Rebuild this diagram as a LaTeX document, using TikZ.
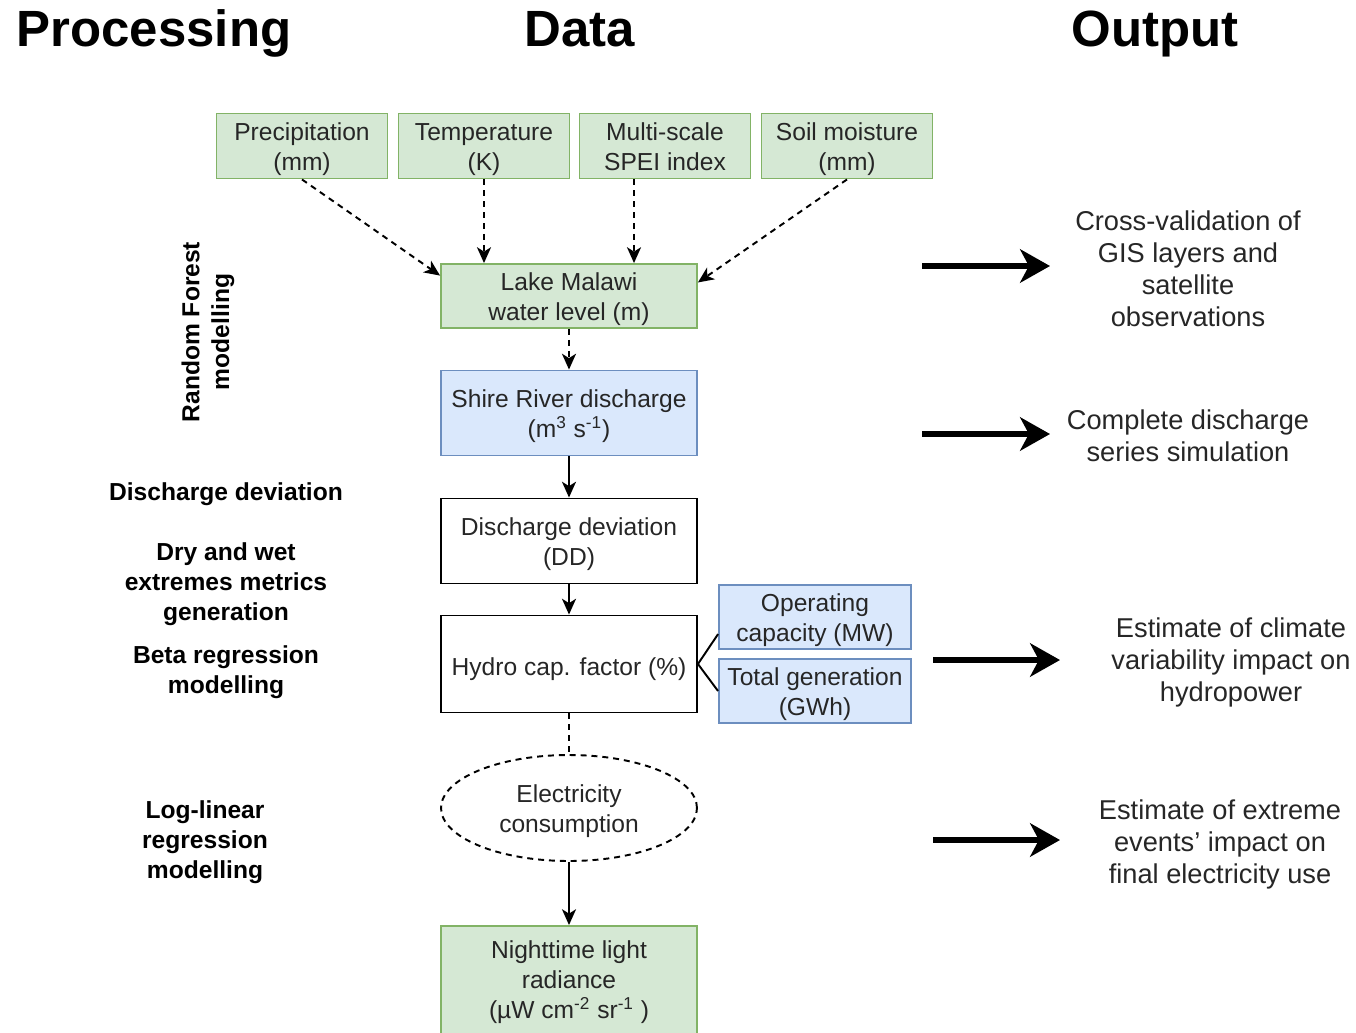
\documentclass[tikz,border=0pt]{standalone}
\usepackage{fontspec}
\setmainfont{Liberation Sans}
\usetikzlibrary{arrows.meta,shapes.geometric}
\definecolor{grfill}{HTML}{D5E8D4}
\definecolor{grline}{HTML}{82B366}
\definecolor{blfill}{HTML}{DAE8FC}
\definecolor{blline}{HTML}{6C8EBF}

\begin{document}
\begin{tikzpicture}[x=0.02cm, y=-0.02cm,
    every node/.style={align=center, text=black!85, font=\fontsize{14}{17}\selectfont},
    boxtext/.style={inner xsep=2pt, inner ysep=0pt, execute at begin node={\rule{0pt}{#1}}, execute at end node={\rule[-3.6pt]{0pt}{0pt}}},
    greenbox/.style={boxtext=#1, draw=grline, fill=grfill, line width=1.1pt},
    greenbox/.default=31.7pt,
    bluebox/.style={boxtext=#1, draw=blline, fill=blfill, line width=1.1pt},
    bluebox/.default=31.7pt,
    plainbox/.style={boxtext=#1, draw=black, line width=1.1pt},
    plainbox/.default=31.7pt,
    title/.style={anchor=base, text=black, font=\fontsize{29}{34}\selectfont\bfseries},
    method/.style={text=black, font=\fontsize{14}{17}\selectfont\bfseries},
    result/.style={text=black!85, font=\fontsize{15.5}{18.2}\selectfont},
    dsh/.style={draw, line width=1.1pt, dash pattern=on 3.4pt off 2.8pt, -{Stealth[length=9pt, width=8pt, inset=2.5pt]}},
    arr/.style={draw, line width=1.1pt, -{Stealth[length=9pt, width=8pt, inset=2.5pt]}},
    big/.style={draw, line width=3.4pt, -{Stealth[length=17pt, width=19pt, inset=5pt]}}]
    \useasboundingbox (0,0) rectangle (1356,1032);

    \node[title] (TP) at (154,46) {Processing};
    \node[title] (TD) at (580,46) {Data};
    \node[title] (TO) at (1155,46) {Output};

    \node[greenbox, minimum width=3.42cm, minimum height=1.3cm] (Prec) at (302,146) {Precipitation\\(mm)};
    \node[greenbox, minimum width=3.42cm, minimum height=1.3cm] (Temp) at (484,146) {Temperature\\(K)};
    \node[greenbox, minimum width=3.42cm, minimum height=1.3cm] (Spei) at (665,146) {Multi-scale\\SPEI index};
    \node[greenbox, minimum width=3.42cm, minimum height=1.3cm] (Soil) at (847,146) {Soil moisture\\(mm)};

    \node[greenbox, minimum width=5.12cm, minimum height=1.28cm] (Lake) at (569,296) {Lake Malawi\\water level (m)};
    \node[bluebox, minimum width=5.12cm, minimum height=1.7cm] (Shire) at (569,413) {Shire River discharge\\(m\textsuperscript{3} s\textsuperscript{-1})};
    \node[plainbox, minimum width=5.12cm, minimum height=1.7cm] (DD) at (569,541) {Discharge deviation\\(DD)};
    \node[plainbox=16.8pt, minimum width=5.12cm, minimum height=1.94cm] (Hcf) at (569,664) {Hydro cap. factor (\%)};
    \node[bluebox, minimum width=3.84cm, minimum height=1.28cm] (Opc) at (815,617) {Operating\\capacity (MW)};
    \node[bluebox, minimum width=3.84cm, minimum height=1.28cm] (Tgen) at (815,691) {Total generation\\(GWh)};
    \node[boxtext=31.7pt, ellipse, draw, line width=1.1pt, dash pattern=on 3.4pt off 2.8pt, minimum width=5.12cm, minimum height=2.12cm] (Elec) at (569,808) {Electricity\\consumption};
    \node[greenbox, minimum width=5.12cm, minimum height=2.28cm] (Ntl) at (569,983) {Nighttime light\\radiance\\(µW cm\textsuperscript{-2} sr\textsuperscript{-1} )};

    \draw[dsh] (Prec.south) -- (Lake.171);
    \draw[dsh] (Temp.south) -- (Temp.south |- Lake.north);
    \draw[dsh] ([xshift=-0.62cm]Spei.south) -- ([xshift=-0.62cm]Spei.south |- Lake.north);
    \draw[dsh] (Soil.south) -- (Lake.6);
    \draw[dsh] (Lake.south) -- (Shire.north);
    \draw[arr] (Shire.south) -- (DD.north);
    \draw[arr] (DD.south) -- (Hcf.north);
    \draw[line width=1.1pt] (Hcf.east) -- (Opc.190);
    \draw[line width=1.1pt] (Hcf.east) -- (Tgen.west);
    \draw[line width=1.1pt, dash pattern=on 3.4pt off 2.8pt] (Hcf.south) -- (Elec.north);
    \draw[arr] (Elec.south) -- (Ntl.north);

    \node[method, rotate=90] (M1) at (208,332) {Random Forest\\modelling};
    \node[method] (M2) at (226,494) {Discharge deviation};
    \node[method] (M3) at (226,584) {Dry and wet\\extremes metrics\\generation};
    \node[method] (M4) at (226,672) {Beta regression\\modelling};
    \node[method] (M5) at (205,842) {Log-linear\\regression\\modelling};

    \node[result] (O1) at (1188,269) {Cross-validation of\\GIS layers and\\satellite\\observations};
    \node[result] (O2) at (1188,436) {Complete discharge\\series simulation};
    \node[result] (O3) at (1231,662) {Estimate of climate\\variability impact on\\hydropower};
    \node[result] (O4) at (1220,844) {Estimate of extreme\\events' impact on\\final electricity use};

    \coordinate (A1) at (922,266);
    \coordinate (A2) at (922,434);
    \coordinate (A3) at (933,660);
    \coordinate (A4) at (933,840);
    \draw[big] (A1) -- (A1 -| 1050,0);
    \draw[big] (A2) -- (A2 -| 1050,0);
    \draw[big] (A3) -- (A3 -| 1060,0);
    \draw[big] (A4) -- (A4 -| 1060,0);
\end{tikzpicture}
\end{document}
